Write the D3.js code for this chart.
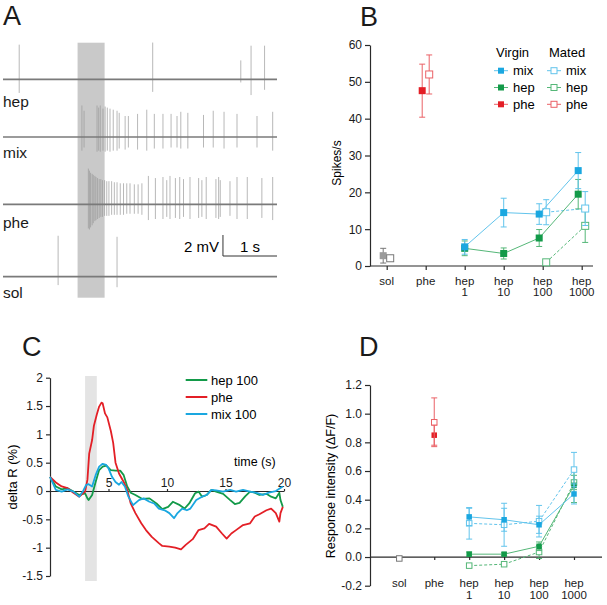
<!DOCTYPE html>
<html>
<head>
<meta charset="utf-8">
<script src="https://cdn.jsdelivr.net/npm/d3@7"></script>
<style>
  body { margin: 0; background: #fff; }
  svg { font-family: "Liberation Sans", Arial, sans-serif; }
</style>
</head>
<body>
<div id="chart"></div>
<script>
// ---- data ----
// panel A: spike trains, [time (s), up (mV), down (mV)]
const stimA = [1.38, 1.88];
const spikesHep = [[0.30, 3.3, 1.3], [2.77, 3.5, 1.2], [4.40, 1.8, 0.3], [4.59, 3.2, 1.5], [4.84, 3.2, 1.0]];
const spikesMix = [
  [1.46, 3.0, 1.3], [1.50, 2.5, 1.0], [1.74, 3.0, 1.4], [1.77, 2.8, 1.3], [1.80, 3.0, 1.4],
  [1.85, 2.7, 1.3], [1.89, 2.9, 1.4], [1.93, 2.8, 1.3], [1.98, 2.7, 1.4], [2.04, 2.6, 1.3],
  [2.11, 2.5, 1.3], [2.15, 2.3, 1.1], [2.26, 2.0, 1.2], [2.32, 2.0, 1.0], [2.49, 2.2, 1.2],
  [2.66, 2.6, 1.3], [2.80, 2.2, 1.1], [2.96, 2.2, 1.1], [3.11, 2.2, 1.0], [3.22, 2.0, 1.0],
  [3.29, 2.4, 1.1], [3.42, 2.3, 1.1], [3.71, 2.1, 1.0], [3.89, 2.5, 1.0], [4.09, 2.4, 1.1],
  [4.33, 2.2, 1.0], [4.70, 2.0, 1.0], [4.99, 2.4, 1.3]
];
const spikesPhe = [
  [1.58, 3.4, 2.3], [1.60, 3.2, 2.4], [1.62, 3.0, 2.2], [1.65, 2.9, 2.0], [1.67, 2.8, 1.8],
  [1.70, 2.7, 1.6], [1.72, 2.6, 1.5], [1.75, 2.5, 1.4], [1.78, 2.4, 1.3], [1.81, 2.4, 1.2],
  [1.84, 2.3, 1.2], [1.88, 2.3, 1.1], [1.92, 2.2, 1.1], [1.96, 2.2, 1.1], [2.01, 2.2, 1.0],
  [2.06, 2.1, 1.0], [2.11, 2.1, 1.0], [2.17, 2.0, 1.0], [2.23, 2.0, 1.0], [2.29, 2.0, 0.9],
  [2.35, 2.0, 0.9], [2.43, 1.9, 0.9], [2.50, 1.9, 0.9], [2.57, 2.0, 1.0], [2.69, 2.7, 1.5],
  [2.82, 2.5, 1.4], [2.96, 2.6, 1.4], [3.03, 2.3, 1.2], [3.09, 2.7, 1.4], [3.19, 2.5, 1.3],
  [3.27, 2.6, 1.4], [3.34, 2.4, 1.2], [3.46, 2.6, 1.4], [3.62, 2.5, 1.3], [3.68, 2.3, 1.2],
  [3.76, 2.6, 1.4], [3.94, 2.4, 1.3], [3.99, 2.6, 1.4], [4.02, 2.3, 1.2], [4.20, 2.2, 1.1],
  [4.33, 2.6, 1.4], [4.52, 2.6, 1.4], [4.79, 2.5, 1.3], [4.99, 2.6, 1.5]
];
const spikesSol = [[1.02, 3.9, 0.8], [2.11, 3.8, 1.0]];

// panels B and D: categories
const catKeys = ["sol", "phe", "hep1", "hep10", "hep100", "hep1000"];
const catLabels = [["sol"], ["phe"], ["hep", "1"], ["hep", "10"], ["hep", "100"], ["hep", "1000"]];

// panel B: spikes/s, [category, mean, sem]
const bTicks = [0, 10, 20, 30, 40, 50, 60];
const bVirginMix = [["hep1", 5.2, 2.0], ["hep10", 14.5, 3.9], ["hep100", 14.1, 2.8], ["hep1000", 25.9, 4.9]];
const bVirginHep = [["hep1", 4.8, 2.0], ["hep10", 3.4, 1.5], ["hep100", 7.6, 2.3], ["hep1000", 19.5, 4.0]];
const bVirginPhe = [["phe", 47.6, 7.2]];
const bVirginSol = [["sol", 2.8, 2.0]];
const bMatedMix = [["hep100", 14.6, 3.4], ["hep1000", 15.6, 4.6]];
const bMatedHep = [["hep100", 1.0, 0], ["hep1000", 10.9, 4.5]];
const bMatedPhe = [["phe", 52.0, 5.3]];
const bMatedSol = [["sol", 2.1, 0]];

// panel C: delta R (%) over time (s)
const cTicksY = [-1.5, -1, -0.5, 0, 0.5, 1, 1.5, 2];
const cTicksX = [5, 10, 15, 20];
const stimC = [3, 4];
const cHep = [[0,0.25],[0.5,0.08],[1,0.03],[1.5,0.05],[2,-0.01],[2.5,-0.07],[3,-0.04],[3.2,-0.13],[3.3,-0.16],[3.6,-0.07],[3.9,0.16],[4.2,0.37],[4.5,0.43],[4.8,0.45],[5.2,0.37],[5.6,0.36],[6.0,0.36],[6.3,0.28],[6.6,0.08],[6.9,-0.03],[7.3,-0.07],[7.9,-0.14],[8.5,-0.13],[9.1,-0.22],[9.6,-0.32],[10.1,-0.28],[10.5,-0.19],[11.1,-0.25],[11.5,-0.31],[11.9,-0.22],[12.4,-0.04],[12.7,-0.01],[13.0,-0.1],[13.4,-0.07],[13.8,0.02],[14.2,-0.01],[14.8,-0.05],[15.4,-0.16],[15.8,-0.23],[16.2,-0.21],[16.7,-0.09],[17.1,-0.01],[17.5,-0.03],[17.9,-0.07],[18.5,-0.05],[18.9,-0.1],[19.3,-0.13],[19.6,-0.03],[19.7,-0.16],[19.9,-0.28]];
const cPhe = [[0,0.25],[0.5,0.15],[1,0.08],[1.5,0.05],[2,-0.03],[2.5,-0.1],[3,-0.01],[3.2,0.2],[3.35,0.66],[3.6,0.9],[3.75,1.15],[4.0,1.35],[4.2,1.49],[4.4,1.56],[4.5,1.55],[4.7,1.37],[4.9,1.3],[5.2,1.06],[5.4,0.85],[5.6,0.5],[5.9,0.31],[6.3,0.16],[6.6,0.02],[6.9,-0.22],[7.3,-0.39],[7.8,-0.57],[8.2,-0.69],[8.7,-0.81],[9.3,-0.92],[9.6,-0.97],[10.2,-0.98],[10.7,-1.0],[11.2,-1.03],[11.6,-0.95],[12.2,-0.85],[12.7,-0.69],[13.2,-0.66],[13.6,-0.58],[14.2,-0.63],[14.7,-0.75],[15.1,-0.84],[15.5,-0.75],[15.9,-0.69],[16.5,-0.6],[17.1,-0.57],[17.5,-0.45],[17.9,-0.41],[18.5,-0.34],[18.9,-0.31],[19.3,-0.39],[19.6,-0.54],[19.7,-0.39],[19.9,-0.28]];
const cMix = [[0,0.25],[0.5,0.02],[1,-0.01],[1.5,0.03],[2,-0.01],[2.5,-0.1],[2.8,-0.01],[3.1,0.11],[3.3,0.12],[3.6,0.08],[3.9,0.28],[4.2,0.43],[4.5,0.48],[4.8,0.46],[5.0,0.4],[5.3,0.25],[5.6,0.16],[5.9,0.11],[6.1,0.16],[6.4,0.08],[6.7,-0.1],[7.1,-0.25],[7.6,-0.16],[8.0,-0.13],[8.5,-0.19],[8.9,-0.22],[9.3,-0.31],[9.8,-0.34],[10.2,-0.39],[10.6,-0.48],[10.9,-0.39],[11.3,-0.31],[11.7,-0.34],[12.0,-0.31],[12.5,-0.16],[13.0,-0.1],[13.4,-0.07],[13.8,0.02],[14.2,0.01],[14.8,-0.01],[15.4,0.02],[15.9,-0.01],[16.5,0.02],[17.1,-0.01],[17.6,-0.03],[18.2,-0.07],[18.7,-0.03],[19.3,0],[19.9,0.08]];

// panel D: response intensity (dF/F), [category, mean, sem]
const dTicks = [-0.2, 0, 0.2, 0.4, 0.6, 0.8, 1.0, 1.2];
const dVirginMix = [["hep1", 0.28, 0.06], ["hep10", 0.26, 0.08], ["hep100", 0.225, 0.06], ["hep1000", 0.44, 0.07]];
const dMatedMix = [["hep1", 0.235, 0.11], ["hep10", 0.225, 0.15], ["hep100", 0.25, 0.11], ["hep1000", 0.61, 0.12]];
const dVirginHep = [["hep1", 0.02, 0.015], ["hep10", 0.02, 0.01], ["hep100", 0.075, 0.03], ["hep1000", 0.50, 0.12]];
const dMatedHep = [["hep1", -0.06, 0.01], ["hep10", -0.05, 0.01], ["hep100", 0.035, 0.045], ["hep1000", 0.52, 0.05]];
const dVirginPhe = [["phe", 0.85, 0.07]];
const dMatedPhe = [["phe", 0.94, 0.17]];
const dSol = [["sol", -0.01, 0]];

// ---- colours ----
const blue = "#1aa7e0", blueL = "#62c4ec";
const green = "#139a49", greenL = "#55b778";
const red = "#e31f26", redL = "#ea6166";
const gray = "#9a9a9a", grayL = "#777";
const axisCol = "#2a2a2a";

const svg = d3.select("#chart").append("svg")
  .attr("width", 607)
  .attr("height", 605);
svg.append("rect").attr("width", 607).attr("height", 605).attr("fill", "#fff");

// panel letters
[["A", 3, 25], ["B", 360, 26], ["C", 22, 356], ["D", 359, 356]].forEach(([t, x, y]) => {
  svg.append("text").attr("x", x).attr("y", y)
    .attr("font-size", 27).attr("fill", "#1a1a1a").text(t);
});

// ================= Panel A =================
const xA = d3.scaleLinear().domain([0, 5.07]).range([3, 277]);
const mv = d3.scaleLinear().domain([0, 1]).range([0, 10.5]);
const gA = svg.append("g");

gA.append("rect")
  .attr("x", xA(stimA[0]))
  .attr("y", 42.7)
  .attr("width", xA(stimA[1]) - xA(stimA[0]))
  .attr("height", 255)
  .attr("fill", "#c9c9c9");

const traces = [
  { name: "hep", spikes: spikesHep, base: 79.3, labelY: 107 },
  { name: "mix", spikes: spikesMix, base: 137, labelY: 158 },
  { name: "phe", spikes: spikesPhe, base: 204.3, labelY: 228 },
  { name: "sol", spikes: spikesSol, base: 276.7, labelY: 298 },
];

traces.forEach((tr) => {
  const g = gA.append("g");
  g.selectAll("line.spike")
    .data(tr.spikes)
    .join("line")
    .attr("class", "spike")
    .attr("x1", (d) => xA(d[0]))
    .attr("x2", (d) => xA(d[0]))
    .attr("y1", (d) => tr.base - mv(d[1]))
    .attr("y2", (d) => tr.base + mv(d[2]))
    .attr("stroke", "#999")
    .attr("stroke-width", 0.7);
  g.append("line")
    .attr("x1", xA(0)).attr("x2", xA(5.07))
    .attr("y1", tr.base).attr("y2", tr.base)
    .attr("stroke", "#7a7a7a")
    .attr("stroke-width", 1.7);
  gA.append("text")
    .attr("x", 3).attr("y", tr.labelY)
    .attr("font-size", 15.5).attr("fill", "#1a1a1a")
    .text(tr.name);
});

// scale bar
const sbX0 = xA(4.07), sbX1 = xA(5.07), sbY = 256;
gA.append("path")
  .attr("d", `M${sbX0},${sbY - mv(2)} L${sbX0},${sbY} L${sbX1},${sbY}`)
  .attr("fill", "none").attr("stroke", "#333").attr("stroke-width", 1);
gA.append("text").attr("x", sbX0 - 4).attr("y", 251.5)
  .attr("text-anchor", "end").attr("font-size", 15).text("2 mV");
gA.append("text").attr("x", (sbX0 + sbX1) / 2).attr("y", 251.5)
  .attr("text-anchor", "middle").attr("font-size", 15).text("1 s");

// ---- helper for mean +/- sem series ----
function drawSeries(g, x, y, data, o) {
  const px = (d) => x(d[0]) + o.dx(d[0]);
  if (data.length > 1) {
    g.append("path")
      .datum(data)
      .attr("d", d3.line().x(px).y((d) => y(d[1])))
      .attr("fill", "none")
      .attr("stroke", o.line)
      .attr("stroke-width", 1)
      .attr("stroke-dasharray", o.dash || null);
  }
  const eb = g.append("g");
  data.filter((d) => d[2] > 0).forEach((d) => {
    const cx = px(d), t = y(d[1] + d[2]), b = y(d[1] - d[2]);
    eb.append("path")
      .attr("d", `M${cx},${t} V${b} M${cx - o.cap},${t} H${cx + o.cap} M${cx - o.cap},${b} H${cx + o.cap}`)
      .attr("stroke", o.line).attr("stroke-width", 1).attr("fill", "none");
  });
  g.selectAll(null)
    .data(data)
    .join("rect")
    .attr("x", (d) => px(d) - o.size / 2)
    .attr("y", (d) => y(d[1]) - o.size / 2)
    .attr("width", o.size)
    .attr("height", o.size)
    .attr("fill", o.filled ? o.color : "#fff")
    .attr("stroke", o.filled ? "none" : o.color)
    .attr("stroke-width", 1);
}

function catLabelRow(g, x, y1, y2) {
  catKeys.forEach((c, i) => {
    const t = g.append("text")
      .attr("x", x(c)).attr("y", y1)
      .attr("text-anchor", "middle")
      .attr("font-size", 11.5).attr("fill", "#1a1a1a");
    catLabels[i].forEach((s, j) => {
      t.append("tspan").attr("x", x(c)).attr("y", j === 0 ? y1 : y2).text(s);
    });
  });
}

function styleAxis(g, fs) {
  g.selectAll(".domain").attr("stroke", axisCol).attr("stroke-width", 1.2);
  g.selectAll(".tick line").attr("stroke", axisCol).attr("stroke-width", 1.2);
  g.selectAll(".tick text").attr("fill", "#1a1a1a").attr("font-size", fs)
    .attr("font-family", "Liberation Sans, Arial, sans-serif");
}

// ================= Panel B =================
const xB = d3.scalePoint().domain(catKeys).range([386.7, 581.7]);
const yB = d3.scaleLinear().domain([0, 60]).range([266, 45]);
const gB = svg.append("g");

const gBy = gB.append("g").attr("transform", "translate(370,0)")
  .call(d3.axisLeft(yB).tickValues(bTicks).tickSize(5).tickSizeOuter(0).tickPadding(3));
styleAxis(gBy, 12);

const gBx = gB.append("g").attr("transform", `translate(0,${yB(0)})`)
  .call(d3.axisBottom(xB).tickSize(4).tickSizeOuter(0).tickFormat(""));
gBx.select(".domain").remove();
styleAxis(gBx, 11);
gB.append("line").attr("x1", 370).attr("x2", 593)
  .attr("y1", yB(0)).attr("y2", yB(0))
  .attr("stroke", axisCol).attr("stroke-width", 1.2);
catLabelRow(gB, xB, 285, 296);

gB.append("text")
  .attr("transform", "translate(341,163) rotate(-90)")
  .attr("text-anchor", "middle").attr("font-size", 12).text("Spikes/s");

const matedCatsB = [...bMatedMix, ...bMatedHep, ...bMatedPhe, ...bMatedSol].map((d) => d[0]);
const dxVirginB = (c) => (matedCatsB.includes(c) ? -3.5 : 0);
const dxMatedB = () => 3.5;

drawSeries(gB, xB, yB, bMatedHep, { color: greenL, line: greenL, filled: false, dash: "3,2", dx: dxMatedB, size: 7, cap: 3 });
drawSeries(gB, xB, yB, bMatedMix, { color: blueL, line: blueL, filled: false, dash: "3,2", dx: dxMatedB, size: 7, cap: 3 });
drawSeries(gB, xB, yB, bVirginHep, { color: green, line: greenL, filled: true, dx: dxVirginB, size: 7, cap: 3 });
drawSeries(gB, xB, yB, bVirginMix, { color: blue, line: blueL, filled: true, dx: dxVirginB, size: 7, cap: 3 });
drawSeries(gB, xB, yB, bVirginPhe, { color: red, line: redL, filled: true, dx: dxVirginB, size: 7, cap: 3 });
drawSeries(gB, xB, yB, bMatedPhe, { color: redL, line: redL, filled: false, dx: dxMatedB, size: 7, cap: 3 });
drawSeries(gB, xB, yB, bVirginSol, { color: gray, line: grayL, filled: true, dx: dxVirginB, size: 7, cap: 3 });
drawSeries(gB, xB, yB, bMatedSol, { color: grayL, line: grayL, filled: false, dx: dxMatedB, size: 7, cap: 3 });

// legend B
const legB = gB.append("g");
legB.append("text").attr("x", 496).attr("y", 57).attr("font-size", 13).text("Virgin");
legB.append("text").attr("x", 549).attr("y", 57).attr("font-size", 13).text("Mated");
const legRows = [["mix", blue, blueL], ["hep", green, greenL], ["phe", red, redL]];
legRows.forEach(([name, c, cl], i) => {
  const yy = 70.7 + i * 16.8;
  [[494, true], [547, false]].forEach(([x0, filled]) => {
    legB.append("line").attr("x1", x0).attr("x2", x0 + 14).attr("y1", yy).attr("y2", yy)
      .attr("stroke", cl).attr("stroke-width", 1);
    legB.append("rect").attr("x", x0 + 4).attr("y", yy - 3).attr("width", 6).attr("height", 6)
      .attr("fill", filled ? c : "#fff").attr("stroke", filled ? "none" : cl);
    legB.append("text").attr("x", x0 + 19).attr("y", yy + 4.5).attr("font-size", 13).text(name);
  });
});

// ================= Panel C =================
const xC = d3.scaleLinear().domain([0, 20]).range([50, 284]);
const yC = d3.scaleLinear().domain([-1.5, 2]).range([576, 377.7]);
const gC = svg.append("g");

gC.append("rect")
  .attr("x", xC(stimC[0])).attr("y", 376)
  .attr("width", xC(stimC[1]) - xC(stimC[0]))
  .attr("height", 205)
  .attr("fill", "#e4e4e4");

const gCy = gC.append("g").attr("transform", `translate(${xC(0)},0)`)
  .call(d3.axisLeft(yC).tickValues(cTicksY).tickSize(4).tickSizeOuter(0).tickPadding(3)
    .tickFormat((d) => String(d)));
styleAxis(gCy, 12);

const gCx = gC.append("g").attr("transform", `translate(0,${yC(0)})`)
  .call(d3.axisTop(xC).tickValues(cTicksX).tickSize(2).tickSizeOuter(0).tickPadding(2));
styleAxis(gCx, 12);

gC.append("text").attr("x", 234).attr("y", 466).attr("font-size", 12.5).text("time (s)");
gC.append("text")
  .attr("transform", "translate(17,477) rotate(-90)")
  .attr("text-anchor", "middle").attr("font-size", 13).text("delta R (%)");

const lineC = d3.line().x((d) => xC(d[0])).y((d) => yC(d[1]));
[[cHep, green], [cPhe, red], [cMix, blue]].forEach(([data, c]) => {
  gC.append("path").datum(data).attr("d", lineC)
    .attr("fill", "none").attr("stroke", c).attr("stroke-width", 1.8)
    .attr("stroke-linejoin", "round");
});

const legC = [["hep 100", green], ["phe", red], ["mix 100", blue]];
legC.forEach(([name, c], i) => {
  const yy = 380 + i * 17;
  gC.append("line").attr("x1", 185.7).attr("x2", 207.3).attr("y1", yy).attr("y2", yy)
    .attr("stroke", c).attr("stroke-width", 2);
  gC.append("text").attr("x", 211).attr("y", yy + 4.5).attr("font-size", 13).text(name);
});

// ================= Panel D =================
const xD = d3.scalePoint().domain(catKeys).range([399.3, 574]);
const yD = d3.scaleLinear().domain([-0.2, 1.2]).range([585.7, 385]);
const gD = svg.append("g");

const gDy = gD.append("g").attr("transform", "translate(370,0)")
  .call(d3.axisLeft(yD).tickValues(dTicks).tickSize(5).tickSizeOuter(0).tickPadding(3)
    .tickFormat((d) => d.toFixed(1)));
styleAxis(gDy, 12);

const gDx = gD.append("g").attr("transform", `translate(0,${yD(0)})`)
  .call(d3.axisBottom(xD).tickSize(3).tickSizeOuter(0).tickFormat(""));
gDx.select(".domain").remove();
styleAxis(gDx, 11);
gD.append("line").attr("x1", 370).attr("x2", 602)
  .attr("y1", yD(0)).attr("y2", yD(0))
  .attr("stroke", axisCol).attr("stroke-width", 1.2);
catLabelRow(gD, xD, 587, 599);

gD.append("text")
  .attr("transform", "translate(335,486) rotate(-90)")
  .attr("text-anchor", "middle").attr("font-size", 12.5).text("Response intensity (\u0394F/F)");

const dx0 = () => 0;
drawSeries(gD, xD, yD, dMatedHep, { color: greenL, line: greenL, filled: false, dash: "3,2", dx: dx0, size: 5.5, cap: 3 });
drawSeries(gD, xD, yD, dVirginHep, { color: green, line: greenL, filled: true, dx: dx0, size: 5.5, cap: 3 });
drawSeries(gD, xD, yD, dMatedMix, { color: blueL, line: blueL, filled: false, dash: "3,2", dx: dx0, size: 5.5, cap: 3 });
drawSeries(gD, xD, yD, dVirginMix, { color: blue, line: blueL, filled: true, dx: dx0, size: 5.5, cap: 3 });
drawSeries(gD, xD, yD, dVirginPhe, { color: red, line: redL, filled: true, dx: dx0, size: 5.5, cap: 3 });
drawSeries(gD, xD, yD, dMatedPhe, { color: redL, line: redL, filled: false, dx: dx0, size: 5.5, cap: 3 });
drawSeries(gD, xD, yD, dSol, { color: grayL, line: grayL, filled: false, dx: dx0, size: 5.5, cap: 3 });
</script>
</body>
</html>
